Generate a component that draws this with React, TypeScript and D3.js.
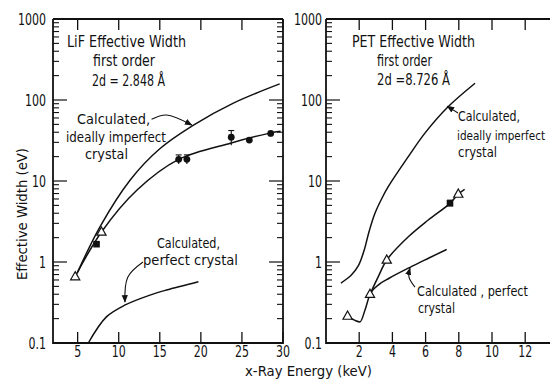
import * as d3 from "d3";
import React from "react";

// ---- data (energy keV, width eV) ----
const yMajor = [0.1, 1, 10, 100, 1000];
const yMajorLabels = ["0.1", "1", "10", "100", "1000"];
const yDecades = [0.1, 1, 10, 100];
const minorSteps = [2, 3, 4, 5, 6, 7, 8, 9];

const lifTicks = [5, 10, 15, 20, 25, 30];
const petTicks = [2, 4, 6, 8, 10, 12];

// LiF panel
const lifImperfect: [number, number][] = [
  [5.0, 0.75], [7.7, 2.7], [11.4, 10.3], [15.0, 25], [19.1, 49], [23.9, 91], [29.6, 158],
];
const lifFit: [number, number][] = [
  [4.7, 0.66], [7.9, 2.35], [12.2, 7.7], [17.3, 18.5], [23.7, 29.5], [28.4, 39], [29.7, 41],
];
const lifPerfect: [number, number][] = [
  [6.3, 0.1], [8.5, 0.21], [10.8, 0.295], [13.8, 0.39], [15.8, 0.45], [19.7, 0.57],
];
const lifCircles: [number, number][] = [
  [17.3, 18.5], [18.3, 18.5], [23.7, 34.7], [25.9, 32], [28.5, 38.7],
];
const lifSquares: [number, number][] = [[7.3, 1.66]];
const lifErrors: [number, number, number][] = [
  [17.3, 16.2, 21], [18.3, 16.2, 21], [23.7, 27.7, 42],
];
const lifTriangles: [number, number][] = [[4.7, 0.66], [7.9, 2.35]];

// PET panel
const petImperfect: [number, number][] = [
  [0.9, 0.55], [1.5, 0.68], [1.95, 0.9], [2.3, 1.4], [2.6, 2.4], [2.95, 4.0], [3.4, 6.3],
  [3.75, 8.5], [4.96, 20], [5.96, 39], [7.37, 83], [8.98, 161],
];
const petPerfect: [number, number][] = [
  [1.3, 0.215], [1.75, 0.19], [2.05, 0.182], [2.35, 0.255], [2.65, 0.4], [3.2, 0.53],
  [3.8, 0.63], [5.06, 0.86], [6.2, 1.12], [7.27, 1.43],
];
const petFit: [number, number][] = [
  [2.65, 0.4], [3.15, 0.66], [3.66, 1.06], [4.96, 2.05], [6.16, 3.3], [7.47, 5.3],
  [7.97, 6.9], [8.35, 7.9],
];
const petSquares: [number, number][] = [[7.47, 5.3]];
const petErrors: [number, number, number][] = [[7.47, 4.9, 5.8]];
const petTriangles: [number, number][] = [[1.3, 0.215], [2.65, 0.4], [3.66, 1.06], [7.97, 6.9]];

// annotation arrows, in data units
const lifImperfectArrow: [number, number][] = [[14.0, 57.8], [15.8, 65.3], [18.9, 49]];
const lifPerfectArrow: [number, number][] = [[12.95, 1.0], [11.1, 0.65], [10.76, 0.32]];
const petImperfectArrow: [number, number][] = [[7.95, 69], [7.3, 84]];
const petPerfectArrow: [number, number][] = [[5.36, 0.49], [5.0, 0.65], [5.06, 0.84]];

const FONT = "'DejaVu Sans Condensed', 'Liberation Sans Narrow', 'Liberation Sans', sans-serif";
const INK = "#111";

const y = d3.scaleLog().domain([0.1, 1000]).range([343, 19]);
const xLif = d3.scaleLinear().domain([2, 30]).range([53, 283]);
const xPet = d3.scaleLinear().domain([0, 14]).range([326, 558.4]);

const labelWidth = (s: string) =>
  s.split("").reduce((a, c) => a + (c === "." ? 3.5 : 7), 0);

type Scale = d3.ScaleLinear<number, number>;

function Txt(props: {
  x: number; y: number; w: number; size: number; children: string;
  anchor?: string; rotate?: boolean;
}) {
  const { x, y: yy, w, size, children, anchor, rotate } = props;
  return (
    <text
      x={x}
      y={yy}
      fontSize={size}
      fontFamily={FONT}
      fontStretch="condensed"
      fill={INK}
      textAnchor={anchor || "start"}
      textLength={w}
      lengthAdjust="spacingAndGlyphs"
      transform={rotate ? `rotate(-90 ${x} ${yy})` : undefined}
    >
      {children}
    </text>
  );
}

function Frame({ x, ticks, labelRight, rightSide }: {
  x: Scale; ticks: number[]; labelRight: number; rightSide: boolean;
}) {
  const [x0, x1] = x.range();
  const y0 = y(0.1), y1 = y(1000);
  const minors = yDecades.flatMap((d) => minorSteps.map((k) => k * d));
  return (
    <g>
      <path
        d={`M${x0},${y1}V${y0}H${x1}${rightSide ? `V${y1}` : ""}M${x0},${y1}H${x1}`}
        fill="none" stroke={INK} strokeWidth={1.8}
      />
      {minors.map((v) => (
        <g key={v}>
          <line x1={x0} x2={x0 + 6} y1={y(v)} y2={y(v)} stroke={INK} strokeWidth={1.1} />
          {rightSide && (
            <line x1={x1} x2={x1 - 6} y1={y(v)} y2={y(v)} stroke={INK} strokeWidth={1.1} />
          )}
        </g>
      ))}
      {yMajor.slice(1, 4).map((v) => (
        <g key={v}>
          <line x1={x0} x2={x0 + 14} y1={y(v)} y2={y(v)} stroke={INK} strokeWidth={1.2} />
          {rightSide && (
            <line x1={x1} x2={x1 - 14} y1={y(v)} y2={y(v)} stroke={INK} strokeWidth={1.2} />
          )}
        </g>
      ))}
      {yMajor.map((v, i) => (
        <Txt key={v} x={labelRight} y={y(v) + 5.5} w={labelWidth(yMajorLabels[i])} size={15} anchor="end">
          {yMajorLabels[i]}
        </Txt>
      ))}
      {ticks.map((t) => (
        <g key={t}>
          <line x1={x(t)} x2={x(t)} y1={y0} y2={y0 - 11} stroke={INK} strokeWidth={1.3} />
          <line x1={x(t)} x2={x(t)} y1={y1} y2={y1 + 11} stroke={INK} strokeWidth={1.3} />
          <Txt x={x(t)} y={357} w={labelWidth(String(t))} size={15} anchor="middle">
            {String(t)}
          </Txt>
        </g>
      ))}
    </g>
  );
}

function Curve({ x, pts, width = 1.5, smooth = false }: {
  x: Scale; pts: [number, number][]; width?: number; smooth?: boolean;
}) {
  const line = d3
    .line<[number, number]>()
    .x((d) => x(d[0]))
    .y((d) => y(d[1]))
    .curve(smooth ? d3.curveCatmullRom.alpha(0.5) : d3.curveMonotoneX);
  return <path d={line(pts) || ""} fill="none" stroke={INK} strokeWidth={width} />;
}

function Arrow({ x, pts }: { x: Scale; pts: [number, number][] }) {
  const line = d3
    .line<[number, number]>()
    .x((d) => x(d[0]))
    .y((d) => y(d[1]))
    .curve(d3.curveCatmullRom);
  return (
    <path d={line(pts) || ""} fill="none" stroke={INK} strokeWidth={1.1} markerEnd="url(#arrowhead)" />
  );
}

function Markers({ x, circles = [], squares = [], triangles = [], errors = [] }: {
  x: Scale; circles?: [number, number][]; squares?: [number, number][];
  triangles?: [number, number][]; errors?: [number, number, number][];
}) {
  const tri = (cx: number, cy: number) =>
    `M${cx},${cy - 5}L${cx + 4.6},${cy + 3.2}L${cx - 4.6},${cy + 3.2}Z`;
  return (
    <g>
      {errors.map(([e, lo, hi], i) => (
        <g key={"e" + i} stroke={INK} strokeWidth={1.1}>
          <line x1={x(e)} x2={x(e)} y1={y(lo)} y2={y(hi)} />
          <line x1={x(e) - 3} x2={x(e) + 3} y1={y(hi)} y2={y(hi)} />
        </g>
      ))}
      {circles.map(([e, v], i) => (
        <circle key={"c" + i} cx={x(e)} cy={y(v)} r={3.4} fill={INK} />
      ))}
      {squares.map(([e, v], i) => (
        <rect key={"s" + i} x={x(e) - 3.3} y={y(v) - 3.3} width={6.6} height={6.6} fill={INK} />
      ))}
      {triangles.map(([e, v], i) => (
        <path key={"t" + i} d={tri(x(e), y(v))} fill="#fff" stroke={INK} strokeWidth={1.2} />
      ))}
    </g>
  );
}

export default function App() {
  return (
    <svg
      width={550}
      height={380}
      style={{ position: "absolute", left: 0, top: 0, background: "#fff" }}
    >
      <defs>
        <marker id="arrowhead" viewBox="0 0 10 10" refX="9" refY="5" markerWidth="7" markerHeight="7" orient="auto-start-reverse">
          <path d="M0,1L10,5L0,9Z" fill={INK} />
        </marker>
      </defs>
      <rect width={550} height={380} fill="#fff" />

      {/* LiF panel */}
      <Frame x={xLif} ticks={lifTicks} labelRight={46} rightSide={true} />
      <Curve x={xLif} pts={lifImperfect} smooth />
      <Curve x={xLif} pts={lifFit} smooth />
      <Curve x={xLif} pts={lifPerfect} smooth />
      <Markers x={xLif} circles={lifCircles} squares={lifSquares} triangles={lifTriangles} errors={lifErrors} />
      <Arrow x={xLif} pts={lifImperfectArrow} />
      <Arrow x={xLif} pts={lifPerfectArrow} />
      <Txt x={67} y={47} w={119} size={15.5}>LiF Effective Width</Txt>
      <Txt x={93} y={66} w={62} size={15.5}>first order</Txt>
      <Txt x={92} y={86} w={73} size={15.5}>2d = 2.848 Å</Txt>
      <Txt x={77} y={124} w={73} size={14}>Calculated,</Txt>
      <Txt x={66} y={142} w={100} size={14}>ideally imperfect</Txt>
      <Txt x={85} y={159} w={43} size={14}>crystal</Txt>
      <Txt x={157} y={248} w={63} size={14}>Calculated,</Txt>
      <Txt x={143} y={265} w={95} size={14}>perfect crystal</Txt>

      {/* PET panel */}
      <Frame x={xPet} ticks={petTicks} labelRight={322} rightSide={false} />
      <Curve x={xPet} pts={petImperfect} smooth />
      <Curve x={xPet} pts={petPerfect} />
      <Curve x={xPet} pts={petFit} smooth />
      <Markers x={xPet} squares={petSquares} triangles={petTriangles} errors={petErrors} />
      <Arrow x={xPet} pts={petImperfectArrow} />
      <Arrow x={xPet} pts={petPerfectArrow} />
      <Txt x={352} y={47} w={123} size={15.5}>PET Effective Width</Txt>
      <Txt x={377} y={66} w={55} size={15.5}>first order</Txt>
      <Txt x={377} y={85} w={73} size={15.5}>2d =8.726 Å</Txt>
      <Txt x={458} y={121} w={62} size={14}>Calculated,</Txt>
      <Txt x={457} y={140} w={88} size={13}>ideally imperfect</Txt>
      <Txt x={458} y={157} w={39} size={14}>crystal</Txt>
      <Txt x={417} y={296} w={111} size={14}>Calculated , perfect</Txt>
      <Txt x={418} y={313} w={37} size={14}>crystal</Txt>

      {/* axis titles */}
      <Txt x={27} y={280} w={132} size={14} rotate>Effective Width (eV)</Txt>
      <Txt x={245} y={376} w={127} size={14}>x-Ray Energy (keV)</Txt>
    </svg>
  );
}
